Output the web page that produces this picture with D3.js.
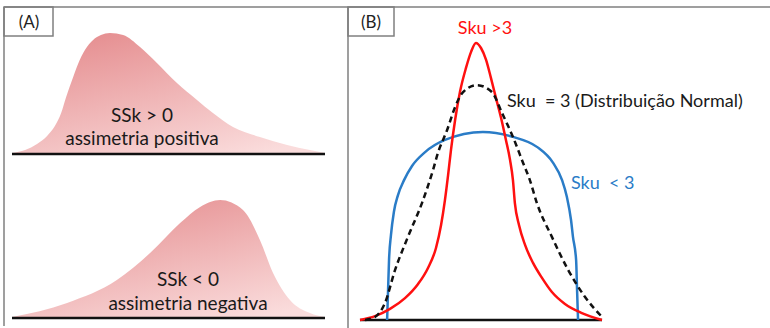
<!DOCTYPE html>
<html>
<head>
<meta charset="utf-8">
<script src="https://cdn.jsdelivr.net/npm/d3@7"></script>
<style>
  body { margin: 0; background: #fff; }
  svg { display: block; }
  text { font-family: Lato, "Open Sans", sans-serif; white-space: pre; }
</style>
</head>
<body>
<svg id="chart" width="770" height="328"></svg>
<script>
// (A) skewed curves, x 0..100, y 0..100 (height relative to peak)
const positiveSkew = [
  [0, 0], [4.2, 2.5], [8.0, 7.5], [11.2, 14.2], [13.7, 22.5], [15.7, 33.3],
  [17.3, 46.7], [19.2, 60.8], [21.1, 74.2], [23.3, 85.8], [25.9, 94.2],
  [28.4, 98.3], [31.3, 100], [35.5, 98.3], [40.9, 88.3], [46.3, 75],
  [52.7, 58.3], [59.1, 44.2], [64.2, 33.3], [70.6, 21.7], [79.2, 13.3],
  [87.9, 6.7], [95.2, 2.5], [100, 0]
];
const negativeSkew = [
  [0, 0], [17.6, 11.7], [33.5, 30.8], [44.1, 53.3], [53.7, 78.3], [60.1, 91.7],
  [66.5, 97.5], [73.8, 89.2], [79.2, 64.2], [83.4, 36.7], [88.8, 14.2],
  [95.2, 3.3], [100, 0]
];
const skewLabels = [["SSk > 0", "assimetria positiva"], ["SSk < 0", "assimetria negativa"]];

// (B) kurtosis curves
const leptokurtic = [
  [0, 0], [6.2, 1.4], [12.4, 4.0], [18.6, 7.9], [24.0, 13.0], [28.1, 18.8],
  [31.4, 26.0], [33.5, 34.3], [35.1, 43.3], [36.4, 52.3], [37.6, 61.4],
  [39.3, 72.2], [41.3, 82.3], [43.8, 91.0], [45.9, 96.8], [47.9, 100],
  [50.0, 98.2], [52.1, 93.9], [54.1, 87.4], [56.2, 80.1], [58.3, 72.9],
  [60.3, 65.0], [62.0, 57.8], [63.2, 50.5], [64.0, 42.2], [65.7, 34.3],
  [68.2, 27.1], [71.5, 20.6], [75.2, 15.2], [79.3, 10.1], [84.7, 5.8],
  [91.7, 2.5], [100, 0]
];
const mesokurtic = [
  [2.1, 0], [6.2, 1.1], [10.3, 6.1], [14.5, 18.1], [19.8, 30.0], [25.6, 42.2],
  [30.2, 54.2], [32.2, 60.3], [36.0, 68.6], [39.3, 76.9], [42.6, 82.3],
  [48.3, 84.8], [54.5, 82.3], [58.7, 74.7], [63.2, 66.1], [67.4, 56.7],
  [70.2, 50.5], [73.1, 42.2], [79.3, 30.0], [86.0, 18.1], [93.0, 8.3], [100, 1.1]
];
const platykurtic = [
  [11.2, 0], [11.6, 10.8], [12.0, 21.7], [12.8, 30.7], [14.0, 39.0], [15.7, 45.1],
  [18.2, 50.5], [21.5, 55.6], [26.9, 60.6], [35.1, 65.0], [50.8, 67.9],
  [63.2, 66.1], [73.1, 62.5], [79.8, 56.7], [83.5, 50.5], [85.5, 44.4],
  [87.2, 36.1], [88.0, 30.0], [89.3, 21.7], [89.7, 10.8], [90.1, 0]
];
const kurtLabels = ["Sku >3", "Sku  = 3 (Distribuição Normal)", "Sku  < 3"];

const svg = d3.select("#chart");

const grad = svg.append("defs").append("linearGradient")
  .attr("id", "pink").attr("x1", "0.2").attr("y1", "0").attr("x2", "0.8").attr("y2", "1");
grad.append("stop").attr("offset", "0%").attr("stop-color", "#e58d8f");
grad.append("stop").attr("offset", "100%").attr("stop-color", "#fadcdc");

// frame
const frame = svg.append("g").attr("stroke", "#7f7f7f").attr("stroke-width", 1.5).attr("fill", "none");
frame.append("line").attr("x1", 4).attr("y1", 7).attr("x2", 770).attr("y2", 7);
frame.append("line").attr("x1", 4).attr("y1", 7).attr("x2", 4).attr("y2", 326);
frame.append("line").attr("x1", 348).attr("y1", 7).attr("x2", 348).attr("y2", 328);
frame.append("rect").attr("x", 4).attr("y", 7).attr("width", 49).attr("height", 29);
frame.append("rect").attr("x", 348).attr("y", 7).attr("width", 46).attr("height", 29);
svg.append("text").attr("x", 29).attr("y", 28).attr("text-anchor", "middle")
  .attr("font-size", 17).attr("fill", "#222").text("(A)");
svg.append("text").attr("x", 371).attr("y", 28).attr("text-anchor", "middle")
  .attr("font-size", 17).attr("fill", "#222").text("(B)");

// panel A
const xA = d3.scaleLinear().domain([0, 100]).range([12, 325]);
const panelsA = [
  { data: positiveSkew, base: 153, labels: skewLabels[0], lx: 142, ly: [122, 145] },
  { data: negativeSkew, base: 317, labels: skewLabels[1], lx: 188, ly: [286, 310] }
];
panelsA.forEach(p => {
  const y = d3.scaleLinear().domain([0, 100]).range([p.base, p.base - 120]);
  const area = d3.area().x(d => xA(d[0])).y0(p.base).y1(d => y(d[1])).curve(d3.curveMonotoneX);
  svg.append("path").datum(p.data).attr("d", area).attr("fill", "url(#pink)");
  svg.append("line").attr("x1", xA(0)).attr("x2", xA(100)).attr("y1", p.base + 1).attr("y2", p.base + 1)
    .attr("stroke", "#111").attr("stroke-width", 2.5);
  p.labels.forEach((t, i) => {
    svg.append("text").attr("x", p.lx).attr("y", p.ly[i]).attr("text-anchor", "middle")
      .attr("font-size", 19).attr("fill", "#1a1a1a").text(t);
  });
});

// panel B
const xB = d3.scaleLinear().domain([0, 100]).range([360, 602]);
const yB = d3.scaleLinear().domain([0, 100]).range([320, 43]);
const line = d3.line().x(d => xB(d[0])).y(d => yB(d[1])).curve(d3.curveMonotoneX);

svg.append("line").attr("x1", xB(0)).attr("x2", xB(100)).attr("y1", 320).attr("y2", 320)
  .attr("stroke", "#111").attr("stroke-width", 2.5);

svg.append("path").datum(platykurtic).attr("d", line)
  .attr("fill", "none").attr("stroke", "#2a7cc7").attr("stroke-width", 2.5);
svg.append("path").datum(leptokurtic).attr("d", line)
  .attr("fill", "none").attr("stroke", "#ff1010").attr("stroke-width", 2.5);
svg.append("path").datum(mesokurtic).attr("d", line)
  .attr("fill", "none").attr("stroke", "#111").attr("stroke-width", 2.5).attr("stroke-dasharray", "6,4");

svg.append("text").attr("x", 485).attr("y", 34).attr("text-anchor", "middle")
  .attr("font-size", 18).attr("fill", "#ff1010").text(kurtLabels[0]);
svg.append("text").attr("x", 507).attr("y", 107)
  .attr("font-size", 18).attr("fill", "#1a1a1a").text(kurtLabels[1]);
svg.append("text").attr("x", 571).attr("y", 189)
  .attr("font-size", 18).attr("fill", "#2a7cc7").text(kurtLabels[2]);
</script>
</body>
</html>
